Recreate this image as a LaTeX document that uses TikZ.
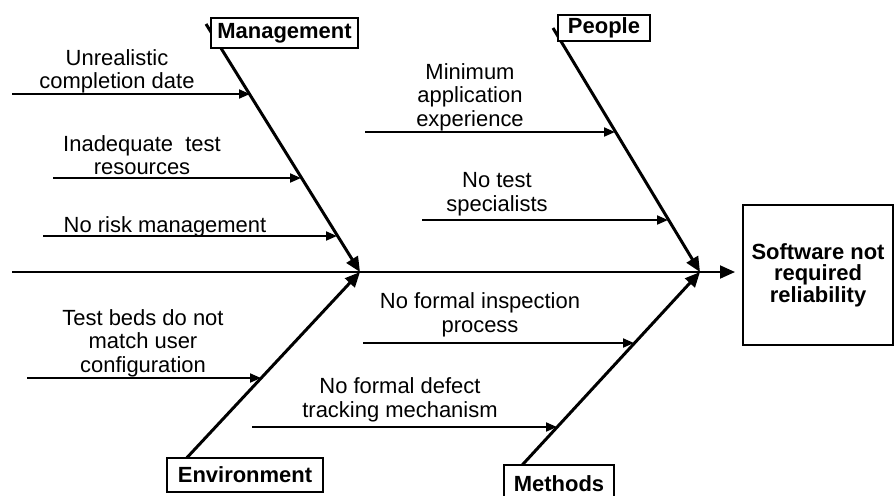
\documentclass[tikz,border=0pt]{standalone}
\usepackage{fontspec}
\setmainfont{Liberation Sans}
\usetikzlibrary{arrows.meta}
\begin{document}
\begin{tikzpicture}[x=0.02cm, y=-0.02cm,
		spine/.style={line width=1.1pt, -{Triangle[length=0.3cm, width=0.26cm]}},
		bone/.style={line width=1.7pt, -{Triangle[length=0.3cm, width=0.26cm]}},
		cause/.style={line width=1.1pt, -{Triangle[length=0.22cm, width=0.18cm]}},
		causetext/.style={align=center, inner sep=0pt, font=\fontsize{12.5}{13.4}\selectfont},
		category/.style={draw, line width=1.1pt, fill=white, inner sep=0pt, font=\fontsize{12.5}{13.4}\selectfont\bfseries}]
		\useasboundingbox (0,0) rectangle (894,495);
		% spine and main bones
		\coordinate (tail) at (12,272);
		\coordinate (head) at (735,272);
		\coordinate (jl) at (360,272);
		\coordinate (jr) at (700,272);
		\coordinate (mtop) at (206,24);
		\coordinate (ptop) at (553,28);
		\coordinate (ebot) at (168,478);
		\coordinate (mbot) at (513,475);
		\draw[spine] (tail) -- (head);
		\draw[bone] (mtop) -- (jl);
		\draw[bone] (ptop) -- (jr);
		\draw[bone] (ebot) -- (jl);
		\draw[bone] (mbot) -- (jr);
		% causes
		\foreach \n/\sx/\ex/\y in {1/12/250/94, 2/53/301/178, 3/43/337/236, 4/365/615/132,
			5/422/668/220, 6/27/261/378, 7/363/634/343, 8/252/557/427} {
			\coordinate (c\n s) at (\sx,\y);
			\coordinate (c\n e) at (\ex,\y);
			\draw[cause] (c\n s) -- (c\n e);
		}
		\node[causetext] (t1) at (117,71.5) {Unrealistic\\completion date};
		\node[causetext] (t2) at (142,155) {Inadequate~ test\\resources};
		\node[causetext] (t3) at (165,227) {No risk management};
		\node[causetext] (t4) at (143,343) {Test beds do not\\match user\\configuration};
		\node[causetext] (t5) at (470,97) {Minimum\\application\\experience};
		\node[causetext] (t6) at (497,194) {No test\\specialists};
		\node[causetext] (t7) at (480,315) {No formal inspection\\process};
		\node[causetext] (t8) at (400,400) {No formal defect\\tracking mechanism};
		% categories and effect
		\node[category, minimum width=2.94cm, minimum height=0.6cm] (mgmt) at (284.5,33) {Management};
		\node[category, minimum width=1.84cm, minimum height=0.52cm] (people) at (604,28) {People};
		\node[category, minimum width=3.12cm, minimum height=0.68cm] (env) at (245,475) {Environment};
		\node[category, minimum width=2.2cm, minimum height=0.76cm] (methods) at (559,484) {Methods};
		\node[category, align=center, minimum width=3cm, minimum height=2.8cm,
			font=\fontsize{12.5}{12.2}\selectfont\bfseries] (effect) at (818,275) {Software not\\required\\reliability};
	\end{tikzpicture}
\end{document}
